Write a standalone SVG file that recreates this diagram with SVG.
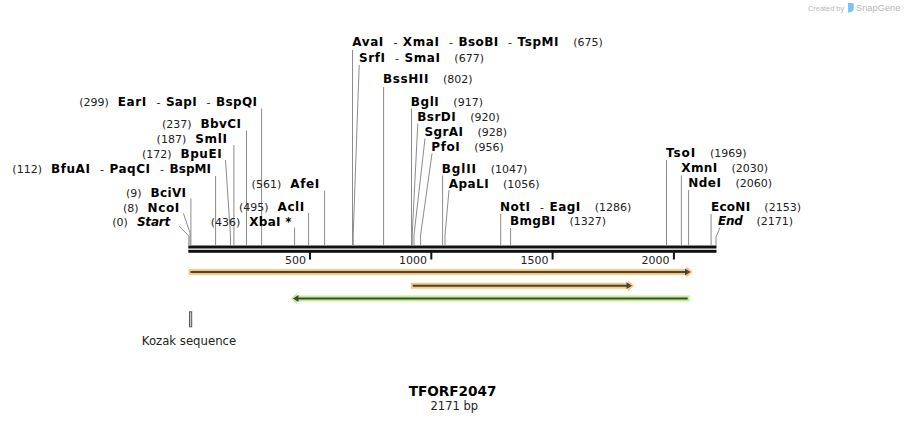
<svg xmlns="http://www.w3.org/2000/svg" width="905" height="422" viewBox="0 0 905 422">
<style>
.b{font-family:"DejaVu Sans",sans-serif;font-weight:bold;font-size:12px;fill:#000}
.bi{font-family:"DejaVu Sans",sans-serif;font-weight:bold;font-style:italic;font-size:12px;fill:#000}
.n{font-family:"DejaVu Sans",sans-serif;font-size:11px;fill:#222}
.d{font-family:"DejaVu Sans",sans-serif;font-size:11px;fill:#222}
.e{text-anchor:end}
.cl{fill:none;stroke:#8c8c8c;stroke-width:1}
.tk{fill:#111}
.tl{font-family:"DejaVu Sans",sans-serif;font-size:11px;fill:#222;text-anchor:end}
.wm{font-family:"Liberation Sans",Arial,sans-serif;fill:#b8b8b8}
</style>
<rect width="905" height="422" fill="#fff"/>

<g id="watermark">
<text class="wm" x="808" y="10.5" font-size="7.4">Created by</text>
<path d="M848,3 h4.5 q1.2,0 1.2,1.2 v4 q0,3 -3.5,4 l-2.2,0.3 z" fill="#7cc4f2"/>
<text class="wm" x="856" y="11" font-size="9.3">SnapGene</text>
</g>

<g id="backbone">
<rect x="188.3" y="245.5" width="528.2" height="3" fill="#111"/>
<rect x="188.3" y="249.8" width="528.2" height="3" fill="#111"/>
<rect class="tk" x="309" y="252" width="2" height="7.5"/>
<rect class="tk" x="430.3" y="252" width="2" height="7.5"/>
<rect class="tk" x="551.6" y="252" width="2" height="7.5"/>
<rect class="tk" x="672.9" y="252" width="2" height="7.5"/>
<text class="tl" x="306" y="263.5">500</text>
<text class="tl" x="427" y="263.5">1000</text>
<text class="tl" x="548.5" y="263.5">1500</text>
<text class="tl" x="669.5" y="263.5">2000</text>
</g>

<g id="connectors">
<polyline class="cl" points="179,226 188.8,236 188.8,245.5"/>
<polyline class="cl" points="183.5,213.5 190,233 190,245.5"/>
<polyline class="cl" points="190.9,198.5 190.9,245.5"/>
<polyline class="cl" points="215.6,176 215.6,245.5"/>
<polyline class="cl" points="225.5,160 230.5,236 230.5,245.5"/>
<polyline class="cl" points="233.9,145 233.9,245.5"/>
<polyline class="cl" points="246.5,130.5 246.5,245.5"/>
<polyline class="cl" points="261.6,108.5 261.6,245.5"/>
<polyline class="cl" points="294.6,227.5 294.6,245.5"/>
<polyline class="cl" points="308.6,213 308.6,245.5"/>
<polyline class="cl" points="324.6,190.5 324.6,245.5"/>
<polyline class="cl" points="352.5,50 352.5,245.5"/>
<polyline class="cl" points="359.2,65 353.2,235 353.2,245.5"/>
<polyline class="cl" points="383.6,87 383.6,245.5"/>
<polyline class="cl" points="411.5,108.5 411.5,245.5"/>
<polyline class="cl" points="417.8,123.5 412.2,235 412.2,245.5"/>
<polyline class="cl" points="425,138.5 414,235 414,245.5"/>
<polyline class="cl" points="432,153.5 420.6,235 420.6,245.5"/>
<polyline class="cl" points="442.6,175.5 442.6,245.5"/>
<polyline class="cl" points="449,190 445,235 445,245.5"/>
<polyline class="cl" points="500.7,214 500.7,245.5"/>
<polyline class="cl" points="510.6,228 510.6,245.5"/>
<polyline class="cl" points="666.5,160 666.5,245.5"/>
<polyline class="cl" points="681.4,175.5 681.4,245.5"/>
<polyline class="cl" points="688.6,190 688.6,245.5"/>
<polyline class="cl" points="711.1,214 711.1,245.5"/>
<polyline class="cl" points="720,227.5 716,237 716,245.5"/>
</g>

<g id="site-start"><text class="e" x="170.3" y="226"><tspan class="n">(0)</tspan><tspan class="bi" dx="9" textLength="33.4">Start</tspan></text></g>
<g id="site-ncoi"><text class="e" x="179.3" y="211.5"><tspan class="n">(8)</tspan><tspan class="b" dx="9" textLength="31.8">NcoI</tspan></text></g>
<g id="site-bcivi"><text class="e" x="186" y="196.7"><tspan class="n">(9)</tspan><tspan class="b" dx="9" textLength="35.5">BciVI</tspan></text></g>
<g id="site-bfuai"><text class="e" x="211" y="172.5"><tspan class="n">(112)</tspan><tspan class="b" dx="9" textLength="39">BfuAI</tspan><tspan class="d" dx="9.5">-</tspan><tspan class="b" dx="5.5" textLength="40.5">PaqCI</tspan><tspan class="d" dx="9.5">-</tspan><tspan class="b" dx="5.5" textLength="41.5">BspMI</tspan></text></g>
<g id="site-bpuei"><text class="e" x="221.7" y="157.7"><tspan class="n">(172)</tspan><tspan class="b" dx="9" textLength="41.2">BpuEI</tspan></text></g>
<g id="site-smli"><text class="e" x="227" y="142.5"><tspan class="n">(187)</tspan><tspan class="b" dx="9" textLength="31.8">SmlI</tspan></text></g>
<g id="site-bbvci"><text class="e" x="241" y="128"><tspan class="n">(237)</tspan><tspan class="b" dx="9" textLength="40.5">BbvCI</tspan></text></g>
<g id="site-eari"><text class="e" x="257" y="106"><tspan class="n">(299)</tspan><tspan class="b" dx="9" textLength="28.5">EarI</tspan><tspan class="d" dx="9.5">-</tspan><tspan class="b" dx="5.5" textLength="30.8">SapI</tspan><tspan class="d" dx="9.5">-</tspan><tspan class="b" dx="5.5" textLength="41">BspQI</tspan></text></g>
<g id="site-xbai"><text class="e" x="291.5" y="226"><tspan class="n">(436)</tspan><tspan class="b" dx="9" textLength="42.2">XbaI *</tspan></text></g>
<g id="site-acli"><text class="e" x="304.3" y="211"><tspan class="n">(495)</tspan><tspan class="b" dx="9" textLength="26.8">AclI</tspan></text></g>
<g id="site-afei"><text class="e" x="319.3" y="188"><tspan class="n">(561)</tspan><tspan class="b" dx="9" textLength="29.1">AfeI</tspan></text></g>

<g id="site-avai"><text x="352.3" y="46"><tspan class="b" textLength="31">AvaI</tspan><tspan class="d" dx="9.5">-</tspan><tspan class="b" dx="5.5" textLength="36">XmaI</tspan><tspan class="d" dx="9.5">-</tspan><tspan class="b" dx="5.5" textLength="39.8">BsoBI</tspan><tspan class="d" dx="9.5">-</tspan><tspan class="b" dx="5.5" textLength="41">TspMI</tspan><tspan class="n" dx="14">(675)</tspan></text></g>
<g id="site-srfi"><text x="359" y="61.5"><tspan class="b" textLength="26">SrfI</tspan><tspan class="d" dx="9.5">-</tspan><tspan class="b" dx="5.5" textLength="35.3">SmaI</tspan><tspan class="n" dx="14">(677)</tspan></text></g>
<g id="site-bsshii"><text x="383" y="83.3"><tspan class="b" textLength="45.4">BssHII</tspan><tspan class="n" dx="14">(802)</tspan></text></g>
<g id="site-bgli"><text x="410.8" y="106"><tspan class="b" textLength="28">BglI</tspan><tspan class="n" dx="14">(917)</tspan></text></g>
<g id="site-bsrdi"><text x="417.2" y="121"><tspan class="b" textLength="38.5">BsrDI</tspan><tspan class="n" dx="14">(920)</tspan></text></g>
<g id="site-sgrai"><text x="424.5" y="136"><tspan class="b" textLength="38.5">SgrAI</tspan><tspan class="n" dx="14">(928)</tspan></text></g>
<g id="site-pfoi"><text x="431.3" y="151"><tspan class="b" textLength="28.4">PfoI</tspan><tspan class="n" dx="14">(956)</tspan></text></g>
<g id="site-bglii"><text x="441.8" y="172.7"><tspan class="b" textLength="34.1">BglII</tspan><tspan class="n" dx="14">(1047)</tspan></text></g>
<g id="site-apali"><text x="448.8" y="187.5"><tspan class="b" textLength="39.8">ApaLI</tspan><tspan class="n" dx="14">(1056)</tspan></text></g>
<g id="site-noti"><text x="500" y="210.7"><tspan class="b" textLength="30">NotI</tspan><tspan class="d" dx="9.5">-</tspan><tspan class="b" dx="5.5" textLength="30.8">EagI</tspan><tspan class="n" dx="14">(1286)</tspan></text></g>
<g id="site-bmgbi"><text x="510" y="225"><tspan class="b" textLength="45.1">BmgBI</tspan><tspan class="n" dx="14">(1327)</tspan></text></g>
<g id="site-tsoi"><text x="666" y="157.3"><tspan class="b" textLength="29.1">TsoI</tspan><tspan class="n" dx="14">(1969)</tspan></text></g>
<g id="site-xmni"><text x="681.3" y="172.3"><tspan class="b" textLength="35.8">XmnI</tspan><tspan class="n" dx="14">(2030)</tspan></text></g>
<g id="site-ndei"><text x="688.2" y="186.7"><tspan class="b" textLength="32.8">NdeI</tspan><tspan class="n" dx="14">(2060)</tspan></text></g>
<g id="site-econi"><text x="711" y="210.7"><tspan class="b" textLength="39.1">EcoNI</tspan><tspan class="n" dx="14">(2153)</tspan></text></g>
<g id="site-end"><text x="718" y="225"><tspan class="bi" textLength="24.8">End</tspan><tspan class="n" dx="14">(2171)</tspan></text></g>

<g id="feature-orf1">
<polygon points="188.5,269 686.5,269 686.5,266.5 693,272 686.5,277.5 686.5,275 188.5,275" fill="#fbc977"/>
<line x1="190.5" y1="272" x2="686" y2="272" stroke="#444" stroke-width="2"/>
<polygon points="685,268.6 690.5,272 685,275.4" fill="#444"/>
</g>
<g id="feature-orf2">
<polygon points="410.8,282.7 628,282.7 628,280.2 634.3,285.7 628,291.2 628,288.7 410.8,288.7" fill="#fbc977"/>
<line x1="412.8" y1="285.7" x2="627.5" y2="285.7" stroke="#444" stroke-width="2"/>
<polygon points="626.5,282.3 632,285.7 626.5,289.1" fill="#444"/>
</g>
<g id="feature-orf3">
<polygon points="689.7,295.5 297,295.5 297,293 290.7,298.5 297,304 297,301.5 689.7,301.5" fill="#bff48c"/>
<line x1="687.7" y1="298.5" x2="297.5" y2="298.5" stroke="#444" stroke-width="2"/>
<polygon points="298.5,295.1 293,298.5 298.5,301.9" fill="#444"/>
</g>

<g id="kozak">
<rect x="189.5" y="311.8" width="2.2" height="15" fill="#c8c8c8" stroke="#5a5a5a" stroke-width="1"/>
<text x="189" y="345" text-anchor="middle" font-family="DejaVu Sans, sans-serif" font-size="11.7" fill="#222">Kozak sequence</text>
</g>

<g id="title">
<text x="452.5" y="396" text-anchor="middle" font-family="DejaVu Sans, sans-serif" font-weight="bold" font-size="13.6" fill="#000">TFORF2047</text>
<text x="454.3" y="410" text-anchor="middle" font-family="DejaVu Sans, sans-serif" font-size="11.5" fill="#222">2171 bp</text>
</g>
</svg>
